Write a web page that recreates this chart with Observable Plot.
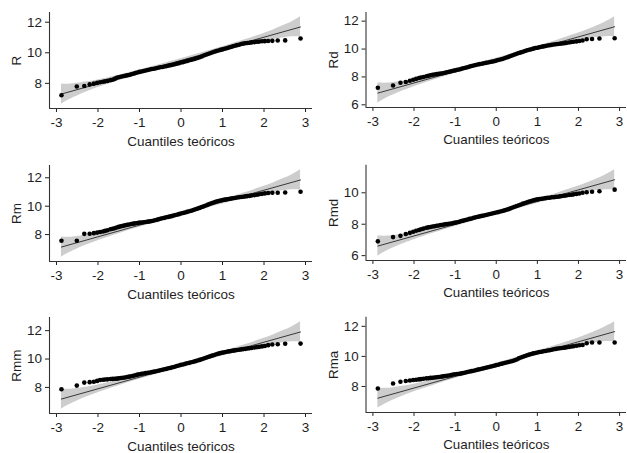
<!DOCTYPE html>
<html>
<head>
<meta charset="utf-8">
<script src="https://cdn.jsdelivr.net/npm/d3@7"></script>
<script src="https://cdn.jsdelivr.net/npm/@observablehq/plot@0.6"></script>
<style>
  html, body { margin: 0; padding: 0; background: #fff; }
  #wrap { position: relative; width: 627px; height: 453px; overflow: hidden; background: #fff; }
  #wrap > div { position: absolute; }
</style>
</head>
<body>
<div id="wrap"></div>
<script>
// ---- data ----
const xLabel = "Cuantiles teóricos";
const panelNames = ["R", "Rd", "Rm", "Rmd", "Rmm", "Rma"];
const xTicks = [-3, -2, -1, 0, 1, 2, 3];
const yTicks = [6, 8, 10, 12];

// theoretical quantiles (x) of the plotted points
const xq = [-2.88,-2.51,-2.33,-2.20,-2.10,-2.02,-1.95,-1.88,-1.83,-1.77,
  -1.70,-1.65,-1.60,-1.55,-1.50,-1.45,-1.40,-1.35,-1.30,-1.25,-1.20,-1.15,-1.10,-1.05,
  -1.00,-0.95,-0.90,-0.85,-0.80,-0.75,-0.70,-0.65,-0.60,-0.55,-0.50,-0.45,-0.40,-0.35,
  -0.30,-0.25,-0.20,-0.15,-0.10,-0.05,0,0.05,0.10,0.15,0.20,0.25,0.30,0.35,0.40,0.45,
  0.50,0.55,0.60,0.65,0.70,0.75,0.80,0.85,0.90,0.95,1.00,1.05,1.10,1.15,1.20,1.25,
  1.30,1.35,1.40,1.45,1.50,1.55,1.60,1.65,1.70,
  1.77,1.83,1.88,1.95,2.02,2.10,2.20,2.33,2.51,2.88];

// sample quantiles (y) per panel
const valR = [7.22,7.79,7.83,7.93,7.98,8.03,8.07,8.10,8.13,8.16,
  8.21,8.24,8.29,8.36,8.40,8.43,8.46,8.49,8.52,8.55,8.59,8.63,8.67,8.71,8.75,8.78,8.81,8.84,
  8.87,8.91,8.94,8.96,8.99,9.02,9.05,9.07,9.10,9.13,9.16,9.19,9.22,9.25,9.29,9.32,9.36,9.39,
  9.43,9.47,9.51,9.54,9.58,9.62,9.66,9.71,9.76,9.82,9.87,9.92,9.97,10.02,10.07,10.11,10.15,
  10.19,10.22,10.26,10.30,10.34,10.38,10.42,10.46,10.50,10.53,10.57,10.60,10.62,10.64,10.66,10.68,
  10.70,10.72,10.73,10.75,10.76,10.77,10.78,10.80,10.81,10.93];
const valRd = [7.23,7.39,7.58,7.63,7.72,7.80,7.86,7.92,7.96,8.00,
  8.05,8.09,8.12,8.15,8.17,8.20,8.22,8.25,8.27,8.30,8.33,8.37,8.40,8.44,8.47,8.51,8.54,8.58,
  8.62,8.66,8.70,8.74,8.78,8.82,8.85,8.89,8.92,8.95,8.98,9.01,9.04,9.07,9.10,9.13,9.17,9.21,
  9.25,9.29,9.34,9.39,9.44,9.50,9.55,9.61,9.66,9.71,9.76,9.81,9.86,9.91,9.95,9.99,10.03,
  10.07,10.10,10.13,10.16,10.19,10.22,10.25,10.27,10.30,10.32,10.34,10.36,10.38,10.40,10.42,10.44,
  10.47,10.50,10.52,10.55,10.58,10.62,10.70,10.72,10.76,10.78];
const valRm = [7.57,7.57,8.05,8.06,8.10,8.14,8.18,8.22,8.26,8.30,
  8.37,8.41,8.45,8.50,8.54,8.58,8.61,8.65,8.68,8.71,8.74,8.77,8.79,8.82,8.84,8.85,8.87,8.89,
  8.91,8.93,8.96,8.99,9.03,9.07,9.11,9.15,9.18,9.22,9.25,9.28,9.32,9.36,9.40,9.44,9.48,9.52,
  9.56,9.60,9.64,9.68,9.73,9.78,9.83,9.88,9.94,9.99,10.05,10.11,10.17,10.23,10.28,10.33,10.37,
  10.40,10.43,10.46,10.48,10.51,10.53,10.56,10.58,10.61,10.63,10.65,10.67,10.69,10.71,10.73,10.75,
  10.78,10.81,10.84,10.87,10.90,10.93,10.95,10.95,10.96,11.02];
const valRmd = [6.91,7.18,7.26,7.38,7.45,7.52,7.58,7.63,7.68,7.72,
  7.77,7.80,7.82,7.85,7.87,7.90,7.92,7.95,7.97,7.99,8.01,8.03,8.05,8.07,8.10,8.13,8.16,8.20,
  8.23,8.27,8.30,8.34,8.37,8.41,8.44,8.47,8.50,8.53,8.56,8.59,8.62,8.65,8.68,8.71,8.74,8.77,
  8.81,8.84,8.88,8.92,8.96,9.01,9.06,9.11,9.16,9.21,9.26,9.31,9.35,9.40,9.44,9.48,9.52,
  9.55,9.58,9.60,9.62,9.64,9.66,9.68,9.69,9.71,9.72,9.74,9.75,9.77,9.79,9.81,9.83,
  9.86,9.88,9.90,9.93,9.96,10.00,10.04,10.06,10.10,10.20];
const valRmm = [7.87,8.13,8.34,8.37,8.40,8.46,8.52,8.54,8.56,8.57,
  8.59,8.60,8.61,8.62,8.64,8.66,8.68,8.70,8.73,8.76,8.79,8.82,8.86,8.90,8.93,8.96,8.98,9.01,
  9.03,9.05,9.08,9.11,9.14,9.17,9.21,9.25,9.28,9.31,9.35,9.38,9.42,9.46,9.51,9.55,9.59,9.62,
  9.66,9.70,9.73,9.77,9.81,9.85,9.90,9.94,9.99,10.04,10.09,10.14,10.19,10.24,10.29,10.34,10.38,
  10.42,10.45,10.48,10.51,10.54,10.56,10.59,10.61,10.64,10.66,10.68,10.70,10.72,10.74,10.76,10.78,
  10.81,10.84,10.86,10.89,10.92,10.98,11.02,11.04,11.08,11.09];
const valRma = [7.87,8.20,8.31,8.37,8.40,8.43,8.45,8.47,8.49,8.51,
  8.54,8.55,8.57,8.58,8.60,8.61,8.63,8.65,8.67,8.69,8.71,8.73,8.76,8.79,8.81,8.83,8.85,8.87,
  8.90,8.93,8.96,8.99,9.02,9.05,9.08,9.12,9.15,9.18,9.21,9.25,9.28,9.31,9.35,9.38,9.42,9.45,
  9.49,9.52,9.56,9.59,9.63,9.66,9.70,9.74,9.80,9.87,9.93,9.98,10.03,10.08,10.12,10.16,10.20,
  10.23,10.26,10.29,10.31,10.34,10.36,10.39,10.41,10.44,10.47,10.50,10.52,10.54,10.56,10.58,10.60,
  10.63,10.66,10.68,10.71,10.74,10.76,10.88,10.92,10.93,10.93];

// reference line values at the lowest and highest theoretical quantile
const lineR = [7.30, 11.69];
const lineRd = [6.84, 11.60];
const lineRm = [7.12, 11.85];
const lineRmd = [6.61, 10.83];
const lineRmm = [7.18, 11.91];
const lineRma = [7.22, 11.65];

// confidence band half-widths around the reference line
const bandX = [-2.88,-2.7,-2.5,-2.25,-2,-1.5,-1,-0.5,0,0.5,1,1.5,2,2.25,2.5,2.7,2.88];
const halfR   = [0.66,0.51,0.41,0.32,0.25,0.18,0.14,0.12,0.11,0.12,0.14,0.18,0.25,0.32,0.41,0.51,0.66];
const halfRd  = [0.72,0.56,0.44,0.34,0.27,0.19,0.15,0.13,0.12,0.13,0.15,0.19,0.27,0.34,0.44,0.56,0.72];
const halfRm  = [0.71,0.55,0.44,0.34,0.27,0.19,0.15,0.13,0.12,0.13,0.15,0.19,0.27,0.34,0.44,0.55,0.71];
const halfRmd = [0.64,0.50,0.39,0.30,0.24,0.17,0.13,0.12,0.11,0.12,0.13,0.17,0.24,0.30,0.39,0.50,0.64];
const halfRmm = [0.71,0.55,0.44,0.34,0.27,0.19,0.15,0.13,0.12,0.13,0.15,0.19,0.27,0.34,0.44,0.55,0.71];
const halfRma = [0.66,0.52,0.41,0.32,0.25,0.18,0.14,0.12,0.11,0.12,0.14,0.18,0.25,0.32,0.41,0.52,0.66];

const values = [valR, valRd, valRm, valRmd, valRmm, valRma];
const lines = [lineR, lineRd, lineRm, lineRmd, lineRmm, lineRma];
const halves = [halfR, halfRd, halfRm, halfRmd, halfRmm, halfRma];

// ---- layout ----
const colLeft = [0, 313];
const colWidth = [313, 317];
const colMarginLeft = [49, 53];
const rowTop = [0, 151, 302];
const rowMarginTop = [12, 14, 15];
const rowMarginBottom = [43, 41, 40];
const rowHeight = 151;
const xDomain = [-3.168, 3.168];
const fontFamily = "'Liberation Sans', Arial, Helvetica, sans-serif";

const wrap = document.getElementById("wrap");

panelNames.forEach((name, k) => {
  const col = k % 2, row = Math.floor(k / 2);
  const vals = values[k], ln = lines[k], half = halves[k];
  const x0 = xq[0], x1 = xq[xq.length - 1];
  const lineAt = x => ln[0] + (x - x0) * (ln[1] - ln[0]) / (x1 - x0);
  const pts = xq.map((x, i) => ({x, y: vals[i]}));
  const lineData = [{x: x0, y: ln[0]}, {x: x1, y: ln[1]}];
  const band = bandX.map((x, i) => ({x, lo: lineAt(x) - half[i], hi: lineAt(x) + half[i]}));
  const lo = Math.min(d3.min(band, d => d.lo), d3.min(vals));
  const hi = Math.max(d3.max(band, d => d.hi), d3.max(vals));
  const pad = (hi - lo) * 0.05;
  const yDomain = [lo - pad, hi + pad];
  const ticksY = yTicks.filter(t => t >= yDomain[0] && t <= yDomain[1]);

  const chart = Plot.plot({
    width: colWidth[col],
    height: rowHeight,
    marginLeft: colMarginLeft[col],
    marginRight: 1,
    marginTop: rowMarginTop[row],
    marginBottom: rowMarginBottom[row],
    style: {fontFamily, fontSize: "13.5px", color: "#1e1e1e", background: "transparent", overflow: "visible"},
    x: {domain: xDomain, ticks: xTicks, tickFormat: d => String(d), tickSize: 4, tickPadding: 5,
        label: xLabel, labelAnchor: "center", labelOffset: 37, labelArrow: "none"},
    y: {domain: yDomain, ticks: ticksY, tickFormat: d => String(d), tickSize: 4, tickPadding: 3.5,
        label: name, labelAnchor: "center", labelOffset: 38, labelArrow: "none"},
    marks: [
      Plot.areaY(band, {x: "x", y1: "lo", y2: "hi", fill: "#cdcdcd", curve: "natural"}),
      Plot.line(lineData, {x: "x", y: "y", stroke: "#111", strokeWidth: 0.8}),
      Plot.dot(pts, {x: "x", y: "y", r: 2.3, fill: "#000", stroke: "none"}),
      Plot.ruleX([xDomain[0]], {stroke: "#333", strokeWidth: 1.1}),
      Plot.ruleY([yDomain[0]], {stroke: "#333", strokeWidth: 1.1})
    ]
  });
  const holder = document.createElement("div");
  holder.style.left = colLeft[col] + "px";
  holder.style.top = rowTop[row] + "px";
  holder.appendChild(chart);
  wrap.appendChild(holder);
});
</script>
</body>
</html>
